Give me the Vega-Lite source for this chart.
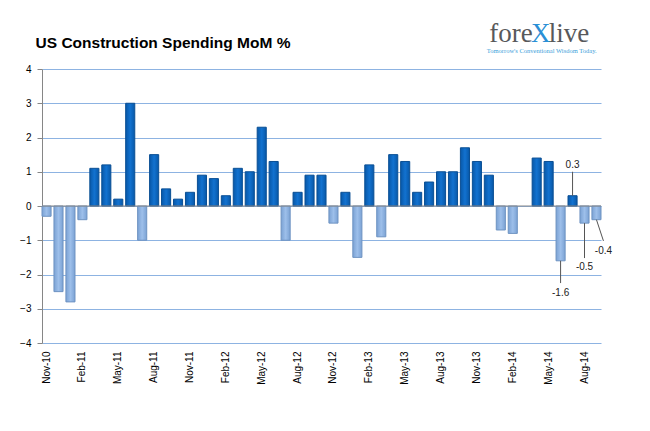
{
  "$schema": "https://vega.github.io/schema/vega-lite/v6.json",
  "width": 559,
  "height": 274,
  "autosize": {"type": "none"},
  "padding": {"left": 42, "top": 69, "right": 49, "bottom": 88},
  "background": "white",
  "config": {
    "view": {"stroke": null},
    "axis": {"labelFont": "Liberation Sans", "labelFontSize": 10, "labelColor": "#000000"},
    "axisY": {
      "title": null,
      "tickCount": 8,
      "grid": true,
      "gridColor": "#8DB3E2",
      "gridWidth": 1,
      "domain": true,
      "domainColor": "#868686",
      "tickColor": "#868686",
      "tickSize": 5,
      "labelPadding": 6,
      "labelOverlap": false
    }
  },
  "datasets": {
    "months": [
      {"m": "Nov-10", "v": -0.3}, {"m": "Dec-10", "v": -2.5}, {"m": "Jan-11", "v": -2.8},
      {"m": "Feb-11", "v": -0.4}, {"m": "Mar-11", "v": 1.1}, {"m": "Apr-11", "v": 1.2},
      {"m": "May-11", "v": 0.2}, {"m": "Jun-11", "v": 3.0}, {"m": "Jul-11", "v": -1.0},
      {"m": "Aug-11", "v": 1.5}, {"m": "Sep-11", "v": 0.5}, {"m": "Oct-11", "v": 0.2},
      {"m": "Nov-11", "v": 0.4}, {"m": "Dec-11", "v": 0.9}, {"m": "Jan-12", "v": 0.8},
      {"m": "Feb-12", "v": 0.3}, {"m": "Mar-12", "v": 1.1}, {"m": "Apr-12", "v": 1.0},
      {"m": "May-12", "v": 2.3}, {"m": "Jun-12", "v": 1.3}, {"m": "Jul-12", "v": -1.0},
      {"m": "Aug-12", "v": 0.4}, {"m": "Sep-12", "v": 0.9}, {"m": "Oct-12", "v": 0.9},
      {"m": "Nov-12", "v": -0.5}, {"m": "Dec-12", "v": 0.4}, {"m": "Jan-13", "v": -1.5},
      {"m": "Feb-13", "v": 1.2}, {"m": "Mar-13", "v": -0.9}, {"m": "Apr-13", "v": 1.5},
      {"m": "May-13", "v": 1.3}, {"m": "Jun-13", "v": 0.4}, {"m": "Jul-13", "v": 0.7},
      {"m": "Aug-13", "v": 1.0}, {"m": "Sep-13", "v": 1.0}, {"m": "Oct-13", "v": 1.7},
      {"m": "Nov-13", "v": 1.3}, {"m": "Dec-13", "v": 0.9}, {"m": "Jan-14", "v": -0.7},
      {"m": "Feb-14", "v": -0.8}, {"m": "Mar-14", "v": 0.0}, {"m": "Apr-14", "v": 1.4},
      {"m": "May-14", "v": 1.3}, {"m": "Jun-14", "v": -1.6}, {"m": "Jul-14", "v": 0.3},
      {"m": "Aug-14", "v": -0.5}, {"m": "Sep-14", "v": -0.4}
    ],
    "notes": [
      {"m": "Jun-14", "v": -1.6, "end": -2.25, "ly": -2.54, "label": "-1.6"},
      {"m": "Jul-14", "v": 0.3, "end": 1.0, "ly": 1.2, "label": "0.3"},
      {"m": "Aug-14", "v": -0.5, "end": -1.52, "ly": -1.78, "label": "-0.5"},
      {"m": "Sep-14", "v": -0.4, "end": -1.02, "ly": -1.31, "label": "-0.4"}
    ]
  },
  "encoding": {
    "x": {
      "field": "m",
      "type": "nominal",
      "sort": null,
      "scale": {
        "domain": ["Nov-10","Dec-10","Jan-11","Feb-11","Mar-11","Apr-11","May-11","Jun-11","Jul-11","Aug-11","Sep-11","Oct-11","Nov-11","Dec-11","Jan-12","Feb-12","Mar-12","Apr-12","May-12","Jun-12","Jul-12","Aug-12","Sep-12","Oct-12","Nov-12","Dec-12","Jan-13","Feb-13","Mar-13","Apr-13","May-13","Jun-13","Jul-13","Aug-13","Sep-13","Oct-13","Nov-13","Dec-13","Jan-14","Feb-14","Mar-14","Apr-14","May-14","Jun-14","Jul-14","Aug-14","Sep-14"],
        "paddingInner": 0.24,
        "paddingOuter": 0
      },
      "axis": {
        "title": null,
        "values": ["Nov-10","Feb-11","May-11","Aug-11","Nov-11","Feb-12","May-12","Aug-12","Nov-12","Feb-13","May-13","Aug-13","Nov-13","Feb-14","May-14","Aug-14"],
        "labelAngle": -90,
        "labelAlign": "right",
        "labelBaseline": "middle",
        "labelPadding": 8,
        "domain": false,
        "ticks": false,
        "grid": false
      }
    }
  },
  "layer": [
    {
      "data": {"name": "months"},
      "transform": [{"filter": "datum.v != 0"}],
      "mark": {"type": "bar", "strokeWidth": 1},
      "encoding": {
        "y": {
          "field": "v",
          "type": "quantitative",
          "scale": {"domain": [-4, 4], "nice": false}
        },
        "fill": {
          "condition": {
            "test": "datum.v < 0",
            "value": {"gradient": "linear", "x1": 0, "y1": 0, "x2": 1, "y2": 0,
              "stops": [{"offset": 0, "color": "#7BA2D4"}, {"offset": 0.5, "color": "#9DBFEA"}, {"offset": 1, "color": "#7BA2D4"}]}
          },
          "value": {"gradient": "linear", "x1": 0, "y1": 0, "x2": 1, "y2": 0,
            "stops": [{"offset": 0, "color": "#0858A8"}, {"offset": 0.5, "color": "#1272D0"}, {"offset": 1, "color": "#0858A8"}]}
        },
        "stroke": {
          "condition": {"test": "datum.v < 0", "value": "#6E93C2"},
          "value": "#0A4F94"
        }
      }
    },
    {
      "data": {"values": [{"z": 0}]},
      "mark": {"type": "rule", "color": "#868686", "strokeWidth": 1},
      "encoding": {"x": null, "y": {"field": "z", "type": "quantitative"}}
    },
    {
      "data": {"name": "notes"},
      "transform": [{"filter": "datum.m != 'Sep-14'"}],
      "mark": {"type": "rule", "color": "#555555", "strokeWidth": 1},
      "encoding": {
        "y": {"field": "v", "type": "quantitative"},
        "y2": {"field": "end"}
      }
    },
    {
      "data": {"name": "notes"},
      "transform": [{"filter": "datum.m == 'Sep-14'"}],
      "mark": {"type": "rule", "color": "#555555", "strokeWidth": 1, "x2Offset": 7},
      "encoding": {
        "x2": {"field": "m"},
        "y": {"field": "v", "type": "quantitative"},
        "y2": {"field": "end"}
      }
    },
    {
      "data": {"name": "notes"},
      "transform": [{"filter": "datum.m != 'Sep-14'"}],
      "mark": {"type": "text", "font": "Liberation Sans", "fontSize": 10, "color": "#222222", "baseline": "middle"},
      "encoding": {
        "y": {"field": "ly", "type": "quantitative"},
        "text": {"field": "label"}
      }
    },
    {
      "data": {"name": "notes"},
      "transform": [{"filter": "datum.m == 'Sep-14'"}],
      "mark": {"type": "text", "font": "Liberation Sans", "fontSize": 10, "color": "#222222", "baseline": "middle", "dx": 7},
      "encoding": {
        "y": {"field": "ly", "type": "quantitative"},
        "text": {"field": "label"}
      }
    },
    {
      "data": {"values": [{"t": "US Construction Spending MoM %"}]},
      "mark": {"type": "text", "font": "Liberation Sans", "fontWeight": "bold", "fontSize": 15.5, "color": "#000000", "align": "left", "baseline": "middle", "dx": -11},
      "encoding": {"x": {"datum": "Nov-10"}, "y": {"datum": 4.75}, "text": {"field": "t"}}
    },
    {
      "data": {"values": [{"t": "fore"}]},
      "mark": {"type": "text", "font": "Liberation Serif", "fontSize": 27, "color": "#58595B", "align": "right", "baseline": "alphabetic", "dx": -4},
      "encoding": {"x": {"datum": "Apr-14"}, "y": {"datum": 4.79}, "text": {"field": "t"}}
    },
    {
      "data": {"values": [{"t": "X"}]},
      "mark": {"type": "text", "font": "Liberation Serif", "fontSize": 27, "color": "#2A8FD6", "align": "center", "baseline": "alphabetic", "dx": 4},
      "encoding": {"x": {"datum": "Apr-14"}, "y": {"datum": 4.79}, "text": {"field": "t"}}
    },
    {
      "data": {"values": [{"t": "live"}]},
      "mark": {"type": "text", "font": "Liberation Serif", "fontSize": 27, "color": "#58595B", "align": "left", "baseline": "alphabetic", "dx": 12},
      "encoding": {"x": {"datum": "Apr-14"}, "y": {"datum": 4.79}, "text": {"field": "t"}}
    },
    {
      "data": {"values": [{"t": "Tomorrow's Conventional Wisdom Today."}]},
      "mark": {"type": "text", "font": "Liberation Serif", "fontSize": 6.5, "color": "#3AA0DA", "align": "center", "baseline": "alphabetic", "dx": 5},
      "encoding": {"x": {"datum": "Apr-14"}, "y": {"datum": 4.47}, "text": {"field": "t"}}
    }
  ]
}
